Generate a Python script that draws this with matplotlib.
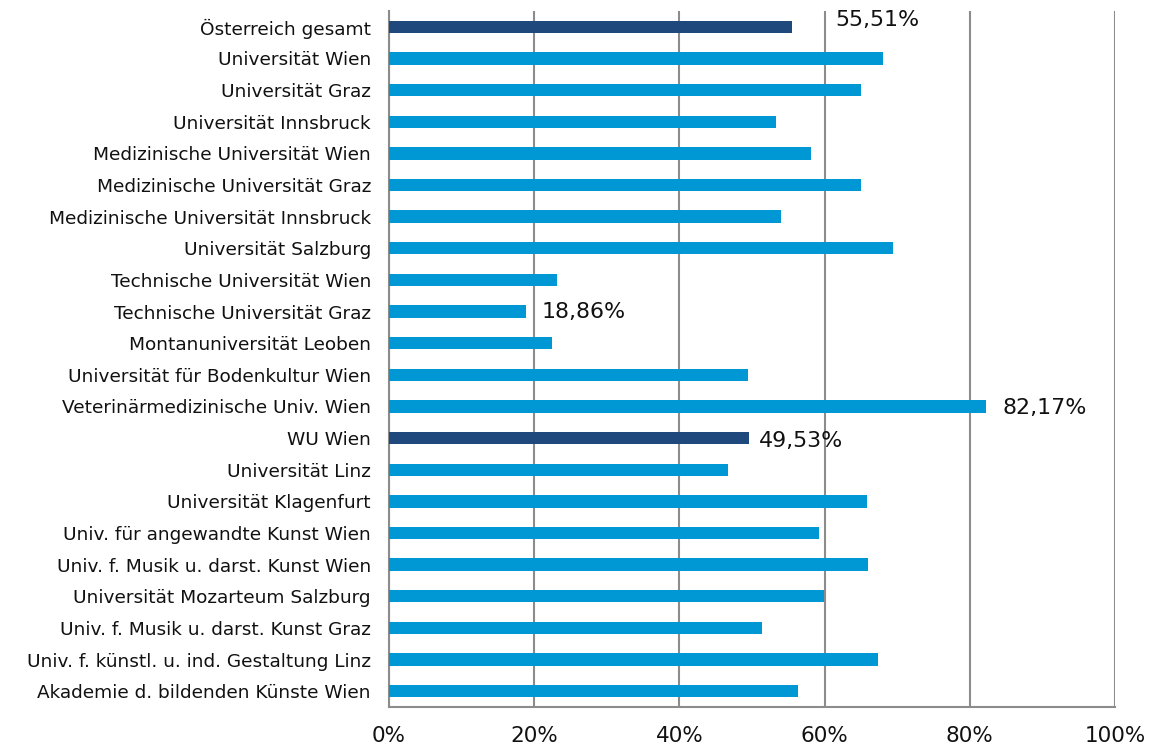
import numpy as np
import matplotlib
matplotlib.use("Agg")
import matplotlib.pyplot as plt

# Anteil in %, je Universität (von oben nach unten)
names = [
    "Österreich gesamt",
    "Universität Wien",
    "Universität Graz",
    "Universität Innsbruck",
    "Medizinische Universität Wien",
    "Medizinische Universität Graz",
    "Medizinische Universität Innsbruck",
    "Universität Salzburg",
    "Technische Universität Wien",
    "Technische Universität Graz",
    "Montanuniversität Leoben",
    "Universität für Bodenkultur Wien",
    "Veterinärmedizinische Univ. Wien",
    "WU Wien",
    "Universität Linz",
    "Universität Klagenfurt",
    "Univ. für angewandte Kunst Wien",
    "Univ. f. Musik u. darst. Kunst Wien",
    "Universität Mozarteum Salzburg",
    "Univ. f. Musik u. darst. Kunst Graz",
    "Univ. f. künstl. u. ind. Gestaltung Linz",
    "Akademie d. bildenden Künste Wien",
]
values = [55.51, 68.0, 65.0, 53.3, 58.1, 65.0, 54.0, 69.4, 23.2, 18.86, 22.4,
          49.4, 82.17, 49.53, 46.7, 65.9, 59.2, 66.0, 59.9, 51.4, 67.4, 56.4]
highlight = ["Österreich gesamt", "WU Wien"]
labelled = ["Österreich gesamt", "Technische Universität Graz",
            "Veterinärmedizinische Univ. Wien", "WU Wien"]
xticks = [0, 20, 40, 60, 80, 100]

light = "#0098D4"
dark = "#1F497D"
grey = "#8C8C8C"

fig = plt.figure(figsize=(11.53, 7.47), dpi=100)
ax = fig.add_axes([0.3374, 0.0535, 0.967 - 0.3374, 0.9853 - 0.0535])

y = np.arange(len(names))
colors = [dark if n in highlight else light for n in names]
ax.barh(y, values, height=0.39, color=colors, zorder=3)

# label placement like in the original (x offset in %, y offset in bars)
offsets = {
    "Österreich gesamt": (6.0, -0.22),
    "Technische Universität Graz": (2.2, 0.03),
    "Veterinärmedizinische Univ. Wien": (2.3, 0.05),
    "WU Wien": (1.4, 0.08),
}
for i, n in enumerate(names):
    if n in labelled:
        dx, dy = offsets[n]
        txt = ("%.2f%%" % values[i]).replace(".", ",")
        ax.text(values[i] + dx, i + dy, txt, va="center", ha="left",
                fontsize=15.9, color="#111111", zorder=4)

ax.set_ylim(len(names) - 0.5, -0.5)
ax.set_xlim(0, 100)
ax.set_yticks(y)
ax.set_yticklabels(names, fontsize=13.3, color="#111111")
ax.set_xticks(xticks)
ax.set_xticklabels(["%d%%" % t for t in xticks], fontsize=15.5, color="#111111")
ax.tick_params(axis="y", length=0, pad=13)
ax.tick_params(axis="x", length=0, pad=14)

ax.grid(axis="x", color=grey, linewidth=1.5, zorder=0)
ax.grid(axis="y", visible=False)
for s in ["top", "right"]:
    ax.spines[s].set_visible(False)
for s in ["left", "bottom"]:
    ax.spines[s].set_color(grey)
    ax.spines[s].set_linewidth(1.5)

fig.savefig("out.png", dpi=100)
